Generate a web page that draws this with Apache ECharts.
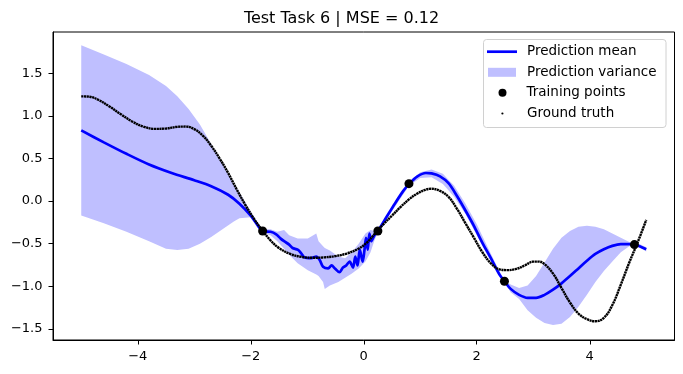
<!DOCTYPE html>
<html>
<head>
<meta charset="utf-8">
<script src="https://cdn.jsdelivr.net/npm/echarts@6/dist/echarts.min.js"></script>
<style>html,body{margin:0;padding:0;background:#fff}#c{width:683px;height:374px}</style>
</head>
<body>
<div id="c"></div>
<script>
// ---- data ----
const titleText = 'Test Task 6 | MSE = 0.12';
const xTicks = [-4, -2, 0, 2, 4];
const yTicks = [-1.5, -1.0, -0.5, 0.0, 0.5, 1.0, 1.5];

const gtX = [-5.0,-4.85,-4.7,-4.5,-4.3,-4.1,-3.9,-3.7,-3.5,-3.3,-3.15,-3.0,-2.85,-2.7,-2.55,-2.4,-2.25,-2.1,-1.95,-1.8,-1.65,-1.5,-1.3,-1.1,-0.9,-0.7,-0.5,-0.3,-0.1,0.05,0.2,0.35,0.5,0.65,0.8,0.95,1.1,1.2,1.35,1.5,1.65,1.8,1.95,2.1,2.25,2.4,2.55,2.7,2.85,3.0,3.1,3.2,3.35,3.5,3.65,3.8,3.95,4.1,4.25,4.4,4.55,4.7,4.85,5.0];
const gtY = [1.23,1.225,1.19,1.11,1.02,0.935,0.875,0.848,0.852,0.872,0.875,0.845,0.77,0.65,0.50,0.33,0.14,-0.04,-0.20,-0.34,-0.46,-0.55,-0.62,-0.655,-0.665,-0.66,-0.645,-0.615,-0.56,-0.49,-0.38,-0.27,-0.17,-0.07,0.02,0.09,0.135,0.145,0.12,0.05,-0.09,-0.26,-0.43,-0.60,-0.73,-0.80,-0.81,-0.795,-0.755,-0.71,-0.71,-0.74,-0.85,-1.02,-1.19,-1.32,-1.385,-1.41,-1.37,-1.22,-0.98,-0.72,-0.48,-0.22];

const meanX = [-5.0,-4.6,-4.2,-3.8,-3.4,-3.0,-2.7,-2.4,-2.2,-2.0,-1.85,-1.77,-1.65,-1.55,-1.47,-1.41,-1.32,-1.26,-1.17,-1.11,-1.05,-0.93,-0.84,-0.78,-0.72,-0.63,-0.57,-0.51,-0.43,-0.37,-0.31,-0.25,-0.19,-0.15,-0.11,-0.07,-0.02,0.01,0.04,0.07,0.10,0.13,0.19,0.25,0.4,0.55,0.7,0.8,0.95,1.1,1.2,1.35,1.5,1.65,1.8,1.95,2.1,2.25,2.4,2.49,2.6,2.75,2.9,3.05,3.2,3.35,3.5,3.65,3.8,3.95,4.1,4.25,4.4,4.55,4.7,4.8,4.9,5.0];
const meanY = [0.83,0.69,0.555,0.43,0.33,0.245,0.175,0.075,-0.03,-0.17,-0.31,-0.355,-0.36,-0.39,-0.44,-0.47,-0.51,-0.55,-0.57,-0.61,-0.66,-0.67,-0.65,-0.69,-0.77,-0.79,-0.755,-0.79,-0.835,-0.78,-0.755,-0.71,-0.78,-0.65,-0.755,-0.57,-0.71,-0.59,-0.43,-0.57,-0.38,-0.47,-0.40,-0.35,-0.19,-0.03,0.12,0.20,0.29,0.33,0.325,0.29,0.21,0.06,-0.11,-0.29,-0.49,-0.67,-0.86,-0.94,-1.03,-1.10,-1.135,-1.135,-1.10,-1.04,-0.965,-0.88,-0.79,-0.70,-0.62,-0.565,-0.525,-0.505,-0.505,-0.51,-0.535,-0.565];

const bandX = [-5.0,-4.6,-4.2,-3.8,-3.5,-3.3,-3.1,-2.9,-2.7,-2.5,-2.3,-2.2,-2.0,-1.9,-1.79,-1.65,-1.53,-1.41,-1.32,-1.17,-0.99,-0.84,-0.80,-0.72,-0.69,-0.6,-0.45,-0.33,-0.21,-0.09,0.03,0.12,0.19,0.25,0.5,0.8,1.0,1.2,1.4,1.6,1.8,2.0,2.2,2.4,2.49,2.6,2.75,2.9,3.05,3.2,3.35,3.5,3.65,3.8,3.95,4.1,4.25,4.4,4.55,4.7,4.8,4.9,5.0];
const bandLower = [-0.17,-0.26,-0.36,-0.47,-0.56,-0.575,-0.56,-0.50,-0.42,-0.33,-0.24,-0.20,-0.19,-0.26,-0.37,-0.40,-0.47,-0.56,-0.63,-0.73,-0.81,-0.86,-0.88,-0.95,-1.03,-0.99,-0.95,-0.90,-0.85,-0.79,-0.71,-0.60,-0.46,-0.37,-0.12,0.18,0.27,0.28,0.20,0.05,-0.15,-0.40,-0.65,-0.88,-0.95,-1.07,-1.15,-1.28,-1.37,-1.43,-1.455,-1.44,-1.36,-1.24,-1.10,-0.95,-0.82,-0.71,-0.60,-0.53,-0.52,-0.55,-0.59];
const bandUpper = [1.83,1.72,1.61,1.48,1.35,1.23,1.08,0.90,0.67,0.44,0.20,0.10,-0.12,-0.23,-0.33,-0.33,-0.36,-0.34,-0.40,-0.44,-0.44,-0.38,-0.47,-0.53,-0.55,-0.58,-0.65,-0.67,-0.60,-0.50,-0.38,-0.34,-0.35,-0.33,-0.08,0.22,0.34,0.37,0.32,0.18,-0.03,-0.27,-0.55,-0.82,-0.93,-0.98,-1.02,-0.99,-0.88,-0.72,-0.56,-0.43,-0.35,-0.30,-0.29,-0.30,-0.33,-0.38,-0.43,-0.48,-0.50,-0.51,-0.54];

const trainX = [-1.79, 0.25, 0.80, 2.49, 4.79];
const trainY = [-0.35, -0.35, 0.205, -0.94, -0.51];

// ---- build ----
const zip = (a, b) => a.map((v, i) => [v, b[i]]);
const FONT = 'DejaVu Sans';
const fmtMinus = s => s.replace('-', '\u2212');
const bandData = bandX.map((x, i) => [x, bandLower[i], bandUpper[i]]);

const chart = echarts.init(document.getElementById('c'), null, {renderer: 'canvas'});
const legendBase = (item, left, top, w, h, padLeft) => ({
  show: true, orient: 'vertical', left: left, top: top, padding: 0,
  itemWidth: w, itemHeight: h, itemGap: 0, z: 20, selectedMode: false,
  textStyle: {fontFamily: FONT, fontSize: 13.5, color: '#000', lineHeight: 14, padding: [0, 0, 0, padLeft]},
  data: [item]
});

chart.setOption({
  animation: false,
  title: {text: titleText, left: 'center', top: 6,
    textStyle: {fontFamily: FONT, fontSize: 16, fontWeight: 'normal', color: '#000'}},
  grid: {left: 53, right: 8.5, top: 32, bottom: 34, show: true, borderColor: '#000', borderWidth: 1, outerBoundsMode: 'none', containLabel: false},
  xAxis: {
    type: 'value', min: -5.5, max: 5.5,
    splitLine: {show: false},
    axisLine: {show: true, onZero: false, lineStyle: {color: '#000', width: 1}},
    axisTick: {show: true, customValues: xTicks, length: 4.5, lineStyle: {color: '#000'}},
    axisLabel: {customValues: xTicks, margin: 10, fontFamily: FONT, fontSize: 13, color: '#000',
      formatter: v => fmtMinus(String(Math.round(v)))}
  },
  yAxis: {
    type: 'value', min: -1.63, max: 1.985,
    splitLine: {show: false},
    axisLine: {show: true, onZero: false, lineStyle: {color: '#000', width: 1}},
    axisTick: {show: true, customValues: yTicks, length: 4.5, lineStyle: {color: '#000'}},
    axisLabel: {customValues: yTicks, margin: 10.5, fontFamily: FONT, fontSize: 13, color: '#000',
      formatter: v => fmtMinus(v.toFixed(1))}
  },
  graphic: [{
    type: 'rect', z: 10, silent: true,
    shape: {x: 483.5, y: 39.5, width: 182.5, height: 88, r: 3},
    style: {fill: 'rgba(255,255,255,0.8)', stroke: '#d0d0d0', lineWidth: 1}
  }],
  legend: [
    legendBase({name: 'Prediction mean', icon: 'rect', itemStyle: {color: '#0000ff', borderWidth: 0}}, 487, 44.7, 30, 2.7, 5),
    legendBase({name: 'Prediction variance', icon: 'rect', itemStyle: {color: '#bfbfff', borderWidth: 0}}, 488, 65.3, 28, 9, 6),
    legendBase({name: 'Training points', icon: 'circle', itemStyle: {color: '#000', opacity: 1}}, 498.5, 85.7, 8, 8, 15),
    legendBase({name: 'Ground truth', icon: 'circle', itemStyle: {color: '#000', borderWidth: 0}}, 501.3, 106.5, 2.2, 2.2, 18.5)
  ],
  series: [
    {name: 'Prediction variance', type: 'custom', color: '#bfbfff', data: bandData,
      encode: {x: 0, y: [1, 2]}, silent: true, z: 1,
      renderItem: function (params, api) {
        if (params.dataIndex !== 0) return null;
        const upper = bandData.map(d => api.coord([d[0], d[2]]));
        const lower = bandData.map(d => api.coord([d[0], d[1]])).reverse();
        return {type: 'polygon', shape: {points: upper.concat(lower)},
          style: {fill: '#bfbfff', stroke: null}};
      }},
    {name: 'Prediction mean', type: 'line', color: '#0000ff', data: zip(meanX, meanY),
      symbol: 'none', smooth: 0.3, lineStyle: {color: '#0000ff', width: 2.7}, z: 3},
    {name: 'Ground truth', type: 'line', color: '#000', data: zip(gtX, gtY),
      symbol: 'none', smooth: 0.4, lineStyle: {color: '#000', width: 2.4, type: [2.2, 0.5]}, z: 4},
    {name: 'Training points', type: 'scatter', color: '#000', data: zip(trainX, trainY),
      symbol: 'circle', symbolSize: 9, itemStyle: {color: '#000', opacity: 1}, z: 5}
  ]
});
</script>
</body>
</html>
